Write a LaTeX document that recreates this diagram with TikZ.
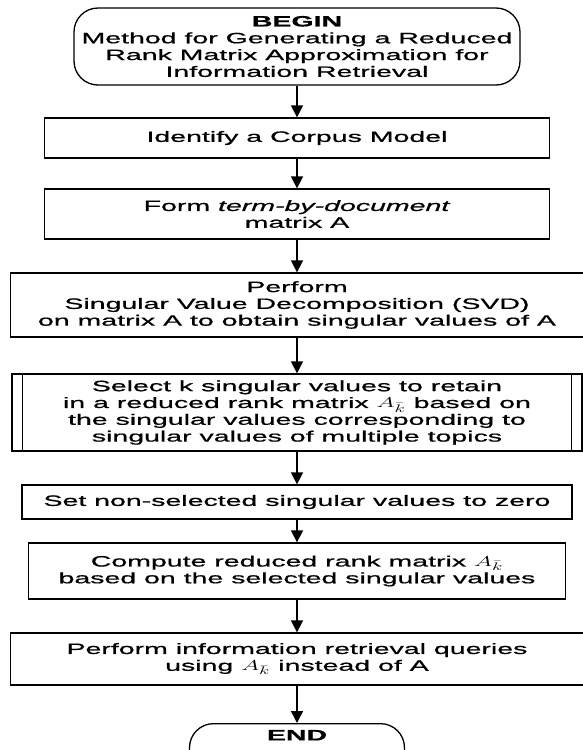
\documentclass[tikz,border=0pt]{standalone}
\usepackage{fontspec}
\setmainfont{Liberation Sans}[FakeStretch=1.9,FakeBold=0.8]
\usepackage{graphicx}
\usetikzlibrary{arrows.meta}
\newcommand{\Akb}{\scalebox{1.7}[1]{$A_{\bar{k}}$}}
\begin{document}
\begin{tikzpicture}[x=1pt,y=-1pt,
  box/.style={draw, line width=1.3pt, align=center, inner sep=0pt,
    font=\fontsize{15}{16.8}\selectfont},
  term/.style={box, rounded corners=24pt},
  arr/.style={line width=1.6pt, -{Triangle[length=12pt,width=12pt]}}]
\useasboundingbox (0,0) rectangle (583,750);
\clip (0,0) rectangle (583,750);
\node[term, minimum width=446pt, minimum height=77pt] (begin) at (297,46.5)
  {\textbf{BEGIN}\\Method for Generating a Reduced\\Rank Matrix Approximation for\\Information Retrieval};
\node[box, minimum width=505pt, minimum height=40pt] (corpus) at (297,138)
  {Identify a Corpus Model};
\node[box, minimum width=505pt, minimum height=50pt] (form) at (297,214)
  {Form \textit{term-by-document}\\matrix A};
\node[box, minimum width=573pt, minimum height=64pt] (svd) at (297,305)
  {Perform\\Singular Value Decomposition (SVD)\\on matrix A to obtain singular values of A};
\node[box, minimum width=570pt, minimum height=77pt] (select) at (297,412.5)
  {Select k singular values to retain\\in a reduced rank matrix \Akb{} based on\\the singular values corresponding to\\singular values of multiple topics};
\draw[line width=1.3pt] ([xshift=11pt]select.north west) -- ([xshift=11pt]select.south west);
\draw[line width=1.3pt] ([xshift=-11pt]select.north east) -- ([xshift=-11pt]select.south east);
\node[box, minimum width=550pt, minimum height=34pt] (zero) at (297,502)
  {Set non-selected singular values to zero};
\node[box, minimum width=537pt, minimum height=56pt] (compute) at (297,571)
  {Compute reduced rank matrix \Akb\\based on the selected singular values};
\node[box, minimum width=573pt, minimum height=52pt] (query) at (297,659)
  {Perform information retrieval queries\\using \Akb{} instead of A};
\node[term, minimum width=215pt, minimum height=52pt, anchor=north, text depth=29pt] (end) at (297,723)
  {\bfseries END};
\draw[arr] (begin.south) -- (corpus.north);
\draw[arr] (corpus.south) -- (form.north);
\draw[arr] (form.south) -- (svd.north);
\draw[arr] (svd.south) -- (select.north);
\draw[arr] (select.south) -- (zero.north);
\draw[arr] (zero.south) -- (compute.north);
\draw[arr] (compute.south) -- (query.north);
\draw[arr] (query.south) -- (end.north);
\end{tikzpicture}
\end{document}
